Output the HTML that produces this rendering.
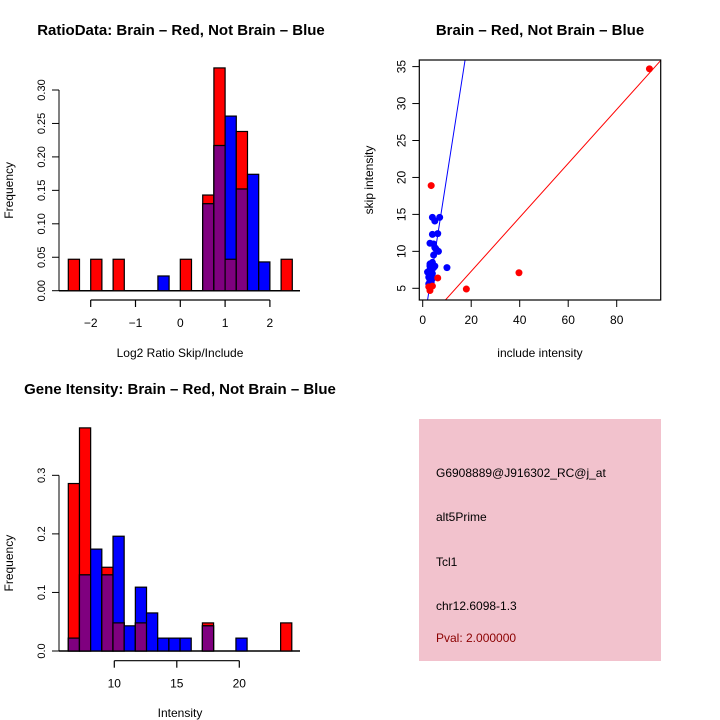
<!DOCTYPE html>
<html><head><meta charset="utf-8"><style>
html,body{margin:0;padding:0;background:#fff;}
svg{display:block;font-family:"Liberation Sans",sans-serif;}
</style></head><body>
<svg id="c" width="720" height="720" viewBox="0 0 720 720" xmlns="http://www.w3.org/2000/svg">
<rect x="0" y="0" width="720" height="720" fill="#fff"/>
<text x="181" y="35" text-anchor="middle" font-size="15" font-weight="bold">RatioData: Brain – Red, Not Brain – Blue</text>
<text x="540" y="35" text-anchor="middle" font-size="15" font-weight="bold">Brain – Red, Not Brain – Blue</text>
<text x="180" y="394" text-anchor="middle" font-size="15" font-weight="bold">Gene Itensity: Brain – Red, Not Brain – Blue</text>
<g id="p1"></g><g id="p2"></g><g id="p3"></g>
<g>
<rect x="419" y="419" width="242" height="242" fill="#f2c2cd"/>
<g font-size="12">
<text x="436" y="477">G6908889@J916302_RC@j_at</text>
<text x="436" y="521">alt5Prime</text>
<text x="436" y="566">Tcl1</text>
<text x="436" y="610">chr12.6098-1.3</text>
<text x="436" y="642" fill="#8b0000">Pval: 2.000000</text>
</g></g>
</svg>
<script>
// ---- Plot 1 data: ratio histogram ----
const ratioBreakStart = -2.5;
const ratioBinWidth = 0.25;
const ratioRed  = [0.047,0,0.047,0,0.047,0,0,0,0,0,0.047,0,0.143,0.333,0.047,0.238,0,0,0,0.047];
const ratioBlue = [0,0,0,0,0,0,0,0,0.022,0,0,0,0.13,0.217,0.261,0.152,0.174,0.043,0,0];
const ratioXTicks = [-2,-1,0,1,2];
const ratioYTicks = [0,0.05,0.10,0.15,0.20,0.25,0.30];
const ratioYLabels = ["0.00","0.05","0.10","0.15","0.20","0.25","0.30"];
// ---- Plot 2 data: scatter ----
const redX = [93.5,3.5,18,39.7,6.2,3,2.5,4];
const redY = [34.7,18.9,4.9,7.1,6.4,4.7,5.2,5.3];
const blueX = [4,5,7,4,6.2,3,4.5,5,6.5,4.5,3,4,5,3,2.5,3.5,4.5,2.5,3,3.5,4,2.5,10,3,2,4,5.5,3.5];
const blueY = [14.6,14.1,14.6,12.3,12.4,11.1,11,10.5,10,9.5,8.3,8.5,8,7.5,7,7.2,7.8,6.5,6,5.8,6.3,5.6,7.8,8,7.2,7,10.3,6.8];
const redLine = [0, 0.365];   // intercept, slope
const blueLine = [-0.8, 2.1];
const scatXTicks = [0,20,40,60,80];
const scatYTicks = [5,10,15,20,25,30,35];
// ---- Plot 3 data: intensity histogram ----
const intBreakStart = 6.32;
const intBinWidth = 0.894;
const intRed  = [0.286,0.381,0,0.143,0.048,0,0.048,0,0,0,0,0,0.048,0,0,0,0,0,0,0.048];
const intBlue = [0.022,0.13,0.174,0.13,0.196,0.043,0.109,0.065,0.022,0.022,0.022,0,0.043,0,0,0.022,0,0,0,0];
const intXTicks = [10,15,20];
const intYTicks = [0,0.1,0.2,0.3];
const intYLabels = ["0.0","0.1","0.2","0.3"];

const NS="http://www.w3.org/2000/svg";
function mk(parent,tag,attrs){const e=document.createElementNS(NS,tag);for(const k in attrs)e.setAttribute(k,attrs[k]);parent.appendChild(e);return e;}

function hist(g,cfg){
  const {start,w,red,blue,sx,sy,xticks,yticks,ylabels,yAxisX,baseY,xAxisY,name,xlabel,xlabelY} = cfg;
  mk(g,'line',{x1:yAxisX,y1:baseY,x2:300,y2:baseY,stroke:'#000','stroke-width':1.5});
  for(let i=0;i<red.length;i++){
    const x0=sx(start+i*w), x1=sx(start+(i+1)*w);
    const draw=(v,col,nm)=>{ if(v<=0) return;
      const r=mk(g,'rect',{x:x0,y:sy(v),width:x1-x0,height:baseY-sy(v),fill:col,stroke:'#000','stroke-width':1.2});
      
      };
    draw(red[i],'#ff0000',name+'-red-bar');
    draw(blue[i],'#0000ff',name+'-blue-bar');
    if(red[i]>0&&blue[i]>0) draw(Math.min(red[i],blue[i]),'#7f007f',name+'-overlap-bar');
  }
  const ya=mk(g,'g',{});
  
  
  mk(ya,'line',{x1:yAxisX,y1:sy(yticks[0]),x2:yAxisX,y2:sy(yticks[yticks.length-1]),stroke:'#000'});
  yticks.forEach((t,i)=>{const y=sy(t);
    mk(ya,'line',{x1:yAxisX-7,y1:y,x2:yAxisX,y2:y,stroke:'#000'});
    const tx=mk(ya,'text',{x:0,y:0,transform:`translate(${yAxisX-14},${y}) rotate(-90)`,'text-anchor':'middle','font-size':11});
    tx.textContent=ylabels[i];});
  const xa=mk(g,'g',{});
  
  
  mk(xa,'line',{x1:sx(xticks[0]),y1:xAxisY,x2:sx(xticks[xticks.length-1]),y2:xAxisY,stroke:'#000','stroke-width':1.2});
  xticks.forEach(t=>{const x=sx(t);
    mk(xa,'line',{x1:x,y1:xAxisY,x2:x,y2:xAxisY+7,stroke:'#000','stroke-width':1.2});
    const tx=mk(xa,'text',{x:x,y:xAxisY+27,'text-anchor':'middle','font-size':12});
    tx.textContent=(t<0?'\u2212'+(-t):String(t));});
  const xl=mk(g,'text',{x:180,y:xlabelY,'text-anchor':'middle','font-size':12});
  
  
  xl.textContent=xlabel;
  const yl=mk(g,'text',{transform:`translate(13,${baseY-(baseY-sy(yticks[yticks.length-1]))/2}) rotate(-90)`,'text-anchor':'middle','font-size':12});
  
  
  yl.textContent='Frequency';
}

hist(document.getElementById('p1'),{start:ratioBreakStart,w:ratioBinWidth,red:ratioRed,blue:ratioBlue,
  sx:v=>90.7+(v+2)*44.8, sy:v=>290.7-v*669, xticks:ratioXTicks,yticks:ratioYTicks,ylabels:ratioYLabels,
  yAxisX:59,baseY:290.7,xAxisY:300,name:'ratio',xlabel:'Log2 Ratio Skip/Include',xlabelY:357});
hist(document.getElementById('p3'),{start:intBreakStart,w:intBinWidth,red:intRed,blue:intBlue,
  sx:v=>114.3+(v-10)*12.5, sy:v=>651-v*585.6, xticks:intXTicks,yticks:intYTicks,ylabels:intYLabels,
  yAxisX:59,baseY:651,xAxisY:660.7,name:'intensity',xlabel:'Intensity',xlabelY:717});

(function(){
  const g=document.getElementById('p2');
  const sx=v=>422.7+v*2.425, sy=v=>288.3-(v-5)*7.39;
  const L=419.3,R=660.7,T=60,B=300;
  const cp=mk(g,'clipPath',{id:'clipS'}); mk(cp,'rect',{x:L,y:T,width:R-L,height:B-T});
  const pts=mk(g,'g',{'clip-path':'url(#clipS)'});
  const xs=[-10,110];
  [[redLine,'#ff0000','red-fit-line'],[blueLine,'#0000ff','blue-fit-line']].forEach(([ln,c,n])=>{
    const l=mk(pts,'line',{x1:sx(xs[0]),y1:sy(ln[0]+ln[1]*xs[0]),x2:sx(xs[1]),y2:sy(ln[0]+ln[1]*xs[1]),stroke:c,'stroke-width':1});
    
    
  });
  blueX.forEach((x,i)=>{const p=mk(pts,'circle',{cx:sx(x),cy:sy(blueY[i]),r:3.5,fill:'#0000ff'});
    
    });
  redX.forEach((x,i)=>{const p=mk(pts,'circle',{cx:sx(x),cy:sy(redY[i]),r:3.5,fill:'#ff0000'});
    
    });
  const box=mk(g,'rect',{x:L,y:T,width:R-L,height:B-T,fill:'none',stroke:'#000','stroke-width':1.2});
  
  
  scatXTicks.forEach(t=>{const x=sx(t);
    mk(g,'line',{x1:x,y1:B,x2:x,y2:B+7,stroke:'#000'});
    const tx=mk(g,'text',{x:x,y:B+24,'text-anchor':'middle','font-size':12}); tx.textContent=t;});
  scatYTicks.forEach(t=>{const y=sy(t);
    mk(g,'line',{x1:L-7,y1:y,x2:L,y2:y,stroke:'#000'});
    const tx=mk(g,'text',{transform:`translate(${L-14},${y}) rotate(-90)`,'text-anchor':'middle','font-size':12}); tx.textContent=t;});
  const xl=mk(g,'text',{x:540,y:357,'text-anchor':'middle','font-size':12});
  
  
  xl.textContent='include intensity';
  const yl=mk(g,'text',{transform:'translate(373,180) rotate(-90)','text-anchor':'middle','font-size':12});
  
  
  yl.textContent='skip intensity';
})();
</script>
</body></html>
